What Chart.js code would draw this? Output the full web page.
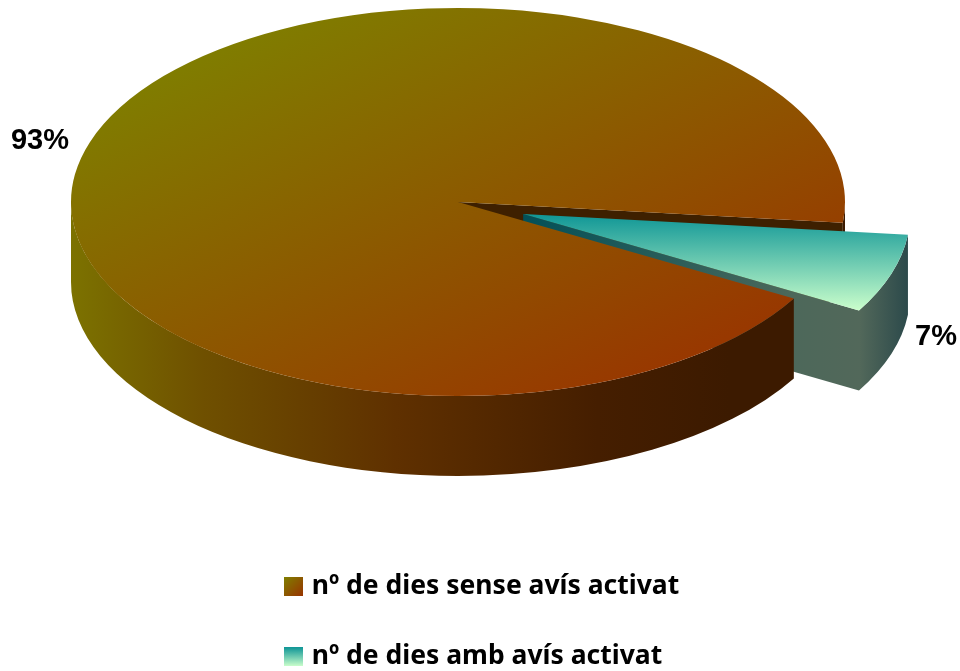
<!DOCTYPE html>
<html>
<head>
<meta charset="utf-8">
<script src="https://cdn.jsdelivr.net/npm/chart.js@4"></script>
<style>
  html, body { margin: 0; padding: 0; background: #fff; }
  canvas { display: block; }
</style>
</head>
<body>
<canvas id="grafica" width="960" height="671"></canvas>
<script>
"use strict";
const categories = ['nº de dies sense avís activat', 'nº de dies amb avís activat'];
const days = [341, 24];
const labels = ['93%', '7%'];

//on cau l'el·lipse superior a la pantalla
const cx = 458, cy = 202, rx = 387, ry = 194, depth = 80;
const explode = 0.177;

function gradientStops(g, stops) {
    stops.forEach(function (s) { g.addColorStop(s[0], s[1]); });
    return g;
}

//quadradet de la llegenda, amb el mateix degradat que el sector
function swatch(x1, y1, x2, y2, stops) {
    const c = document.createElement('canvas');
    c.width = 19; c.height = 19;
    const g = c.getContext('2d');
    g.fillStyle = gradientStops(g.createLinearGradient(x1, y1, x2, y2), stops);
    g.fillRect(0, 0, 19, 19);
    return c;
}
const swatches = [
    swatch(0, 0, 19, 19, [[0, '#807f00'], [1, '#993300']]),
    swatch(0, 0, 0, 19, [[0, '#0f9696'], [1, '#ccffcc']])
];

function faceFill(c) {
    const area = c.chart.chartArea;
    if (!area) return '#888';
    const ctx = c.chart.ctx;
    const x = (area.left + area.right) / 2, y = (area.top + area.bottom) / 2;
    const R = Math.min(area.right - area.left, area.bottom - area.top) / 2;
    if (c.dataIndex === 0) {
        return gradientStops(ctx.createLinearGradient(x - 0.675 * R, y - 0.714 * R, x + 0.675 * R, y + 0.714 * R),
            [[0, '#807c00'], [1, '#983800']]);
    }
    return gradientStops(ctx.createLinearGradient(0, y, 0, y + 0.5 * R),
        [[0, '#0f9696'], [1, '#ccffcc']]);
}

function wall(ctx, x, y, a0, a1, fill) {
    ctx.beginPath();
    ctx.ellipse(x, y, rx, ry, 0, a0, a1);
    ctx.ellipse(x, y + depth, rx, ry, 0, a1, a0, true);
    ctx.closePath();
    ctx.fillStyle = fill;
    ctx.fill();
}

function cutWall(ctx, x, y, a, fill) {
    const ex = x + Math.cos(a) * rx, ey = y + Math.sin(a) * ry;
    ctx.beginPath();
    ctx.moveTo(x, y);
    ctx.lineTo(ex, ey);
    ctx.lineTo(ex, ey + depth);
    ctx.lineTo(x, y + depth);
    ctx.closePath();
    ctx.fillStyle = fill;
    ctx.fill();
}

const pie3d = {
    id: 'pie3d',
    afterLayout: function (chart) {
        //la llegenda va centrada sota el pastis, alineada a l'esquerra
        const l = chart.legend;
        const w = l.width, h = l.height;
        l.left = 245; l.right = l.left + w;
        l.top = 530; l.bottom = l.top + h;
    },
    beforeDatasetsDraw: function (chart) {
        const ctx = chart.ctx;
        const arcs = chart.getDatasetMeta(0).data;
        const big = arcs[0], small = arcs[1];
        const sx = rx / big.outerRadius, sy = ry / big.outerRadius;
        const mid = (small.startAngle + small.endAngle) / 2;
        const tx = cx + Math.cos(mid) * explode * rx;
        const ty = cy + Math.sin(mid) * explode * ry + 1.5;

        const bigWall = gradientStops(ctx.createLinearGradient(cx - rx, 0, cx + rx, 0),
            [[0, '#7c7200'], [0.17, '#6f5000'], [0.42, '#5f3000'], [0.68, '#451e00'], [0.85, '#3c1a00'], [1, '#3c1a00']]);
        const smallWall = gradientStops(ctx.createLinearGradient(tx, 0, tx + rx, 0),
            [[0, '#025058'], [0.7, '#4d685a'], [0.87, '#52685a'], [1, '#2a484a']]);

        ctx.save();
        cutWall(ctx, cx, cy, small.startAngle, '#3e2000');
        cutWall(ctx, tx, ty, small.endAngle, smallWall);
        wall(ctx, tx, ty, small.startAngle, small.endAngle, smallWall);
        wall(ctx, cx, cy, big.startAngle, Math.PI, bigWall);
        wall(ctx, cx, cy, 2 * Math.PI, big.endAngle, bigWall);

        //les cares de dalt son els arcs de Chart.js aixafats
        ctx.setTransform(sx, 0, 0, sy, cx - big.x * sx, cy - big.y * sy);
        big.draw(ctx);
        ctx.setTransform(sx, 0, 0, sy, tx - big.x * sx, ty - big.y * sy);
        small.draw(ctx);
        ctx.restore();

        ctx.save();
        ctx.fillStyle = '#000';
        ctx.font = 'bold 29px "Liberation Sans"';
        ctx.textAlign = 'center';
        ctx.textBaseline = 'middle';
        ctx.fillText(labels[0], 40, 141);
        ctx.fillText(labels[1], 936, 337);
        ctx.restore();
        return false;
    }
};

new Chart(document.getElementById('grafica'), {
    type: 'pie',
    data: {
        labels: categories,
        datasets: [{
            data: days,
            backgroundColor: faceFill,
            borderWidth: 0
        }]
    },
    options: {
        responsive: false,
        animation: false,
        rotation: 119.8,
        plugins: {
            tooltip: { enabled: false },
            legend: {
                position: 'left',
                align: 'start',
                labels: {
                    usePointStyle: true,
                    pointStyleWidth: 10,
                    padding: 43.5,
                    color: '#000',
                    font: { family: '"Noto Sans"', size: 26.5, weight: 'bold' },
                    generateLabels: function () {
                        return categories.map(function (text, i) {
                            return { text: text, pointStyle: swatches[i], fillStyle: '#000', hidden: false, index: i, lineWidth: 0 };
                        });
                    }
                }
            }
        }
    },
    plugins: [pie3d]
});
</script>
</body>
</html>
